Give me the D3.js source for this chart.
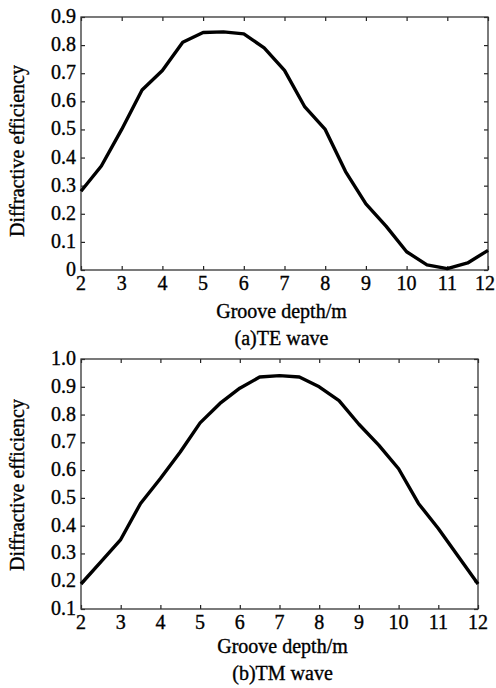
<!DOCTYPE html>
<html><head><meta charset="utf-8">
<script src="https://cdn.jsdelivr.net/npm/d3@7"></script>
<style>body{margin:0;background:#fff}svg{display:block}text{font-family:"Liberation Serif","Times New Roman",serif;fill:#000;stroke:#000;stroke-width:0.35px}</style>
</head><body><svg id="c" width="496" height="688"></svg>
<script>
const depth = [2,2.5,3,3.5,4,4.5,5,5.5,6,6.5,7,7.5,8,8.5,9,9.5,10,10.5,11,11.5,12];
const teValues = [0.28,0.37,0.50,0.64,0.71,0.81,0.845,0.847,0.84,0.79,0.71,0.58,0.50,0.35,0.235,0.155,0.065,0.018,0.005,0.025,0.07];
const tmValues = [0.19,0.27,0.35,0.48,0.57,0.665,0.77,0.84,0.895,0.935,0.94,0.935,0.90,0.85,0.765,0.69,0.605,0.48,0.39,0.29,0.19];
const xTicks = [2,3,4,5,6,7,8,9,10,11,12];
const teYTicks = [0,0.1,0.2,0.3,0.4,0.5,0.6,0.7,0.8,0.9];
const tmYTicks = [0.1,0.2,0.3,0.4,0.5,0.6,0.7,0.8,0.9,1.0];
const xLabel = "Groove depth/m";
const yLabel = "Diffractive efficiency";
const captions = ["(a)TE wave","(b)TM wave"];

const svg = d3.select("#c");
const panels = [
  {vals: teValues, yt: teYTicks, yd:[0,0.9], fmt: d => d===0 ? "0" : d3.format(".1f")(d), l:81, r:488, t:17, b:270, cap:captions[0], xl:48, cl:75, yc:151},
  {vals: tmValues, yt: tmYTicks, yd:[0.1,1.0], fmt: d3.format(".1f"), l:81, r:478, t:359, b:609, cap:captions[1], xl:44, cl:71, yc:485}
];
panels.forEach(p => {
  const x = d3.scaleLinear().domain([2,12]).range([p.l,p.r]);
  const y = d3.scaleLinear().domain(p.yd).range([p.b,p.t]);
  const g = svg.append("g");
  const tl = 4;
  const axB = d3.axisBottom(x).tickValues(xTicks).tickSize(-tl).tickFormat("");
  const axT = d3.axisTop(x).tickValues(xTicks).tickSize(-tl).tickFormat("");
  const axL = d3.axisLeft(y).tickValues(p.yt).tickSize(-tl).tickFormat("");
  const axR = d3.axisRight(y).tickValues(p.yt).tickSize(-tl).tickFormat("");
  g.append("g").attr("transform",`translate(0,${p.b})`).call(axB);
  g.append("g").attr("transform",`translate(0,${p.t})`).call(axT);
  g.append("g").attr("transform",`translate(${p.l},0)`).call(axL);
  g.append("g").attr("transform",`translate(${p.r},0)`).call(axR);
  g.selectAll(".domain").remove();
  g.selectAll(".tick line").attr("stroke","#222").attr("stroke-width",1.2);
  g.append("rect").attr("x",p.l).attr("y",p.t).attr("width",p.r-p.l).attr("height",p.b-p.t)
    .attr("fill","none").attr("stroke","#333").attr("stroke-width",1.3);
  g.selectAll(".xl").data(xTicks).join("text")
    .attr("x",d=> Math.min(x(d), 496-11)).attr("y",p.b+20)
    .attr("text-anchor","middle").attr("font-size",20).text(d=>d);
  g.selectAll(".yl").data(p.yt).join("text").attr("x",p.l-5).attr("y",d=>y(d)+6)
    .attr("text-anchor","end").attr("font-size",20).text(p.fmt);
  const line = d3.line().x((d,i)=>x(depth[i])).y(d=>y(d));
  g.append("path").datum(p.vals).attr("d",line).attr("fill","none").attr("stroke","#000")
    .attr("stroke-width",3.4).attr("stroke-linejoin","round");
  const cx = (p.l+p.r)/2 + (p===panels[0]? -3 : 3);
  g.append("text").attr("x",cx).attr("y",p.b+p.xl).attr("text-anchor","middle").attr("font-size",20).text(xLabel);
  g.append("text").attr("x",cx).attr("y",p.b+p.cl).attr("text-anchor","middle").attr("font-size",20).text(p.cap);
  g.append("text").attr("transform",`translate(24,${p.yc}) rotate(-90)`)
    .attr("text-anchor","middle").attr("font-size",20).text(yLabel);
});
</script></body></html>
